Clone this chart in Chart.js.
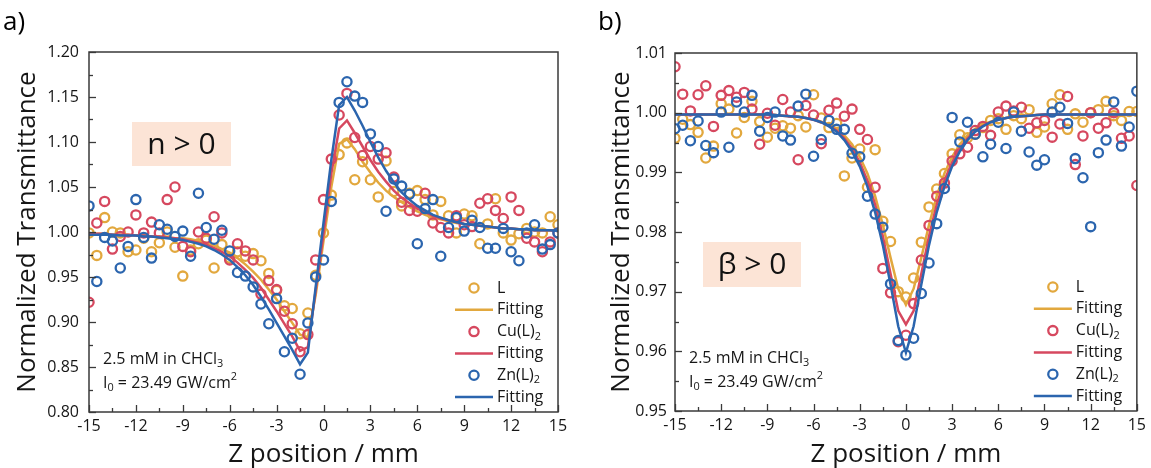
<!DOCTYPE html>
<html>
<head>
<meta charset="utf-8">
<script src="https://cdn.jsdelivr.net/npm/chart.js@4.4.1/dist/chart.umd.min.js"></script>
<style>
  html, body { margin: 0; padding: 0; background: #fff; }
  #wrap { position: relative; width: 1151px; height: 468px; }
  canvas { position: absolute; top: 0; }
  #panel-a { left: 0; }
  #panel-b { left: 575px; }
</style>
</head>
<body>
<div id="wrap">
  <canvas id="panel-a" width="575" height="468"></canvas>
  <canvas id="panel-b" width="576" height="468"></canvas>
</div>
<script>
const FONT = '"Open Sans", "DejaVu Sans", sans-serif';
const INK = '#161616';
const GOLD = '#E2A83E', ROSE = '#D6485F', NAVY = '#2B65AE';

// z positions (mm), shared by every series
const zPos = [-15, -14.5, -14, -13.5, -13, -12.5, -12, -11.5, -11, -10.5, -10, -9.5, -9, -8.5, -8, -7.5,
  -7, -6.5, -6, -5.5, -5, -4.5, -4, -3.5, -3, -2.5, -2, -1.5, -1, -0.5, 0, 0.5, 1, 1.5, 2, 2.5, 3, 3.5,
  4, 4.5, 5, 5.5, 6, 6.5, 7, 7.5, 8, 8.5, 9, 9.5, 10, 10.5, 11, 11.5, 12, 12.5, 13, 13.5, 14, 14.5, 15];
const zTicks = [-15, -12, -9, -6, -3, 0, 3, 6, 9, 12, 15];

// a) closed aperture
const aTicks = [0.80, 0.85, 0.90, 0.95, 1.00, 1.05, 1.10, 1.15, 1.20];
const aL = [0.999, 0.974, 1.016, 1.000, 0.999, 0.978, 0.980, 0.993, 0.978, 0.988, 1.000, 0.983, 0.951,
  0.980, 0.987, 0.991, 0.960, 0.986, 0.971, 0.978, 0.973, 0.976, 0.968, 0.954, 0.935, 0.918, 0.915, 0.887,
  0.910, 0.952, 0.999, 1.041, 1.086, 1.099, 1.058, 1.078, 1.058, 1.039, 1.079, 1.045, 1.029, 1.043, 1.046,
  1.036, 1.019, 1.034, 1.018, 0.999, 1.020, 1.018, 0.987, 1.009, 1.037, 0.999, 0.991, 0.998, 1.004, 1.000,
  0.999, 1.017, 1.008];
const aCu = [0.922, 1.010, 1.034, 0.981, 0.995, 1.000, 1.019, 0.999, 1.011, 0.999, 1.036, 1.050, 0.984,
  0.978, 1.000, 0.993, 1.017, 0.999, 0.969, 0.987, 0.979, 0.969, 0.931, 0.946, 0.936, 0.912, 0.898, 0.867,
  0.886, 0.969, 1.036, 1.081, 1.130, 1.154, 1.105, 1.085, 1.095, 1.081, 1.088, 1.061, 1.033, 1.024, 1.023,
  1.043, 1.010, 1.005, 0.999, 1.018, 1.008, 1.006, 1.032, 1.037, 1.024, 1.015, 1.039, 1.024, 0.993, 0.989,
  0.978, 0.989, 0.999];
const aZn = [1.029, 0.945, 0.994, 0.990, 0.960, 0.984, 1.036, 0.994, 0.971, 1.008, 1.003, 0.995, 1.001,
  0.973, 1.043, 1.005, 0.992, 1.002, 0.979, 0.955, 0.951, 0.939, 0.920, 0.898, 0.926, 0.867, 0.882, 0.842,
  0.899, 0.950, 0.969, 1.034, 1.144, 1.167, 1.151, 1.144, 1.109, 1.095, 1.023, 1.059, 1.051, 1.042, 0.987,
  1.026, 1.036, 0.973, 1.005, 1.016, 1.001, 1.013, 1.005, 0.982, 0.982, 1.004, 0.978, 0.968, 0.999, 1.008,
  0.981, 0.986, 0.999];
const aFitL = [0.998, 0.998, 0.998, 0.997, 0.997, 0.997, 0.996, 0.996, 0.995, 0.995, 0.994, 0.993, 0.993,
  0.992, 0.990, 0.988, 0.985, 0.981, 0.977, 0.971, 0.964, 0.956, 0.947, 0.936, 0.925, 0.912, 0.899, 0.886,
  0.883, 0.930, 0.990, 1.050, 1.098, 1.103, 1.092, 1.078, 1.066, 1.055, 1.046, 1.039, 1.033, 1.028, 1.023,
  1.019, 1.016, 1.014, 1.012, 1.010, 1.009, 1.008, 1.007, 1.006, 1.005, 1.004, 1.004, 1.003, 1.003, 1.002,
  1.002, 1.002, 1.001];
const aFitCu = [0.998, 0.998, 0.998, 0.997, 0.997, 0.997, 0.996, 0.996, 0.995, 0.995, 0.994, 0.993, 0.992,
  0.990, 0.988, 0.986, 0.982, 0.978, 0.973, 0.966, 0.958, 0.949, 0.938, 0.925, 0.912, 0.898, 0.884, 0.868,
  0.872, 0.935, 0.998, 1.065, 1.115, 1.124, 1.110, 1.095, 1.080, 1.067, 1.056, 1.046, 1.038, 1.032, 1.026,
  1.022, 1.018, 1.015, 1.013, 1.011, 1.009, 1.008, 1.007, 1.006, 1.005, 1.004, 1.004, 1.003, 1.003, 1.002,
  1.002, 1.002, 1.001];
const aFitZn = [0.997, 0.997, 0.997, 0.997, 0.996, 0.996, 0.996, 0.995, 0.995, 0.994, 0.993, 0.992, 0.991,
  0.989, 0.987, 0.984, 0.980, 0.975, 0.969, 0.961, 0.952, 0.941, 0.928, 0.914, 0.899, 0.884, 0.869, 0.853,
  0.866, 0.939, 1.010, 1.080, 1.141, 1.150, 1.135, 1.118, 1.100, 1.083, 1.068, 1.055, 1.044, 1.036, 1.029,
  1.024, 1.019, 1.016, 1.013, 1.011, 1.009, 1.008, 1.007, 1.006, 1.005, 1.004, 1.004, 1.003, 1.003, 1.002,
  1.002, 1.002, 1.001];

// b) open aperture
const bTicks = [0.95, 0.96, 0.97, 0.98, 0.99, 1.00, 1.01];
const bL = [0.9957, 0.9989, 0.9980, 0.9967, 0.9924, 0.9944, 1.0015, 1.0006, 0.9966, 0.9992, 1.0019, 0.9985,
  0.9959, 0.9974, 0.9978, 0.9974, 0.9995, 0.9976, 1.0030, 0.9991, 0.9975, 0.9982, 0.9894, 0.9924, 0.9939,
  0.9875, 0.9938, 0.9818, 0.9784, 0.9700, 0.9691, 0.9723, 0.9783, 0.9842, 0.9872, 0.9898, 0.9931, 0.9963,
  0.9958, 0.9964, 0.9975, 0.9987, 0.9990, 0.9972, 0.9995, 0.9990, 1.0005, 0.9967, 0.9976, 1.0015, 1.0030,
  0.9972, 0.9998, 0.9984, 1.0000, 1.0005, 1.0019, 0.9995, 0.9987, 1.0002, 1.0002];
const bCu = [1.0077, 1.0031, 1.0003, 1.0030, 1.0045, 0.9977, 1.0029, 1.0037, 1.0026, 1.0034, 1.0006, 0.9947,
  0.9999, 0.9979, 1.0022, 1.0001, 0.9921, 1.0012, 0.9996, 0.9948, 1.0004, 1.0016, 0.9994, 1.0006, 0.9972,
  0.9955, 0.9875, 0.9739, 0.9698, 0.9616, 0.9627, 0.9680, 0.9753, 0.9811, 0.9860, 0.9882, 0.9919, 0.9931,
  0.9942, 0.9970, 0.9977, 0.9962, 1.0001, 1.0011, 1.0003, 1.0009, 0.9974, 0.9983, 0.9987, 0.9959, 0.9981,
  1.0027, 0.9913, 0.9961, 1.0000, 0.9974, 0.9983, 1.0000, 0.9957, 0.9961, 0.9878];
const bZn = [0.9973, 0.9979, 0.9953, 0.9986, 0.9945, 0.9933, 1.0001, 0.9942, 1.0018, 1.0001, 1.0029, 0.9969,
  0.9992, 1.0001, 0.9961, 0.9954, 1.0011, 1.0031, 0.9927, 0.9955, 0.9987, 0.9972, 0.9972, 0.9932, 0.9926,
  0.9860, 0.9830, 0.9808, 0.9713, 0.9618, 0.9594, 0.9622, 0.9697, 0.9748, 0.9814, 0.9873, 0.9992, 0.9951,
  0.9984, 0.9964, 0.9926, 0.9947, 0.9984, 0.9940, 1.0001, 0.9969, 0.9934, 0.9912, 0.9921, 1.0001, 1.0009,
  0.9982, 0.9923, 0.9891, 0.9809, 0.9933, 0.9954, 1.0018, 0.9944, 0.9976, 1.0036];
const bFitL = [0.9997, 0.9997, 0.9997, 0.9997, 0.9997, 0.9997, 0.9997, 0.9997, 0.9997, 0.9997, 0.9997, 0.9997,
  0.9997, 0.9996, 0.9995, 0.9994, 0.9993, 0.9991, 0.9989, 0.9985, 0.9980, 0.9973, 0.9962, 0.9947, 0.9926,
  0.9898, 0.9860, 0.9812, 0.9757, 0.9705, 0.9678, 0.9705, 0.9757, 0.9812, 0.9860, 0.9898, 0.9926, 0.9947,
  0.9962, 0.9973, 0.9980, 0.9985, 0.9989, 0.9991, 0.9993, 0.9994, 0.9995, 0.9996, 0.9997, 0.9997, 0.9997,
  0.9997, 0.9997, 0.9997, 0.9997, 0.9997, 0.9997, 0.9997, 0.9997, 0.9997, 0.9997];
const bFitCu = [0.9997, 0.9997, 0.9997, 0.9997, 0.9997, 0.9997, 0.9997, 0.9997, 0.9997, 0.9997, 0.9997, 0.9997,
  0.9997, 0.9996, 0.9995, 0.9994, 0.9993, 0.9991, 0.9988, 0.9984, 0.9978, 0.9970, 0.9957, 0.9940, 0.9917,
  0.9886, 0.9846, 0.9793, 0.9730, 0.9668, 0.9645, 0.9668, 0.9730, 0.9793, 0.9846, 0.9886, 0.9917, 0.9940,
  0.9957, 0.9970, 0.9978, 0.9984, 0.9988, 0.9991, 0.9993, 0.9994, 0.9995, 0.9996, 0.9997, 0.9997, 0.9997,
  0.9997, 0.9997, 0.9997, 0.9997, 0.9997, 0.9997, 0.9997, 0.9997, 0.9997, 0.9997];
const bFitZn = [0.9997, 0.9997, 0.9997, 0.9997, 0.9997, 0.9997, 0.9997, 0.9997, 0.9997, 0.9997, 0.9997, 0.9997,
  0.9997, 0.9996, 0.9995, 0.9994, 0.9993, 0.9991, 0.9988, 0.9984, 0.9977, 0.9968, 0.9954, 0.9935, 0.9910,
  0.9876, 0.9833, 0.9778, 0.9712, 0.9642, 0.9598, 0.9642, 0.9712, 0.9778, 0.9833, 0.9876, 0.9910, 0.9935,
  0.9954, 0.9968, 0.9977, 0.9984, 0.9988, 0.9991, 0.9993, 0.9994, 0.9995, 0.9996, 0.9997, 0.9997, 0.9997,
  0.9997, 0.9997, 0.9997, 0.9997, 0.9997, 0.9997, 0.9997, 0.9997, 0.9997, 0.9997];

const pairs = ys => zPos.map((z, i) => ({ x: z, y: ys[i] }));

function dots(label, ys, color, order) {
  return {
    label, data: pairs(ys), showLine: false, order,
    pointRadius: 4.6, pointBorderWidth: 2.3, pointBorderColor: color,
    pointBackgroundColor: 'rgba(255,255,255,0)', borderColor: color
  };
}
function fit(ys, color, order) {
  return {
    label: 'Fitting', data: pairs(ys), showLine: true, order,
    pointRadius: 0, borderColor: color, borderWidth: 2.5, tension: 0
  };
}

// text with sub/superscripts: parts = [[text, '' | 'sub' | 'sup'], ...]
function richText(ctx, parts, x, y, size) {
  let cx = x;
  ctx.textAlign = 'left';
  ctx.textBaseline = 'middle';
  for (const [t, k] of parts) {
    const s = k ? size * 0.68 : size;
    ctx.font = s + 'px ' + FONT;
    const dy = k === 'sub' ? size * 0.32 : k === 'sup' ? -size * 0.38 : 0;
    ctx.fillText(t, cx, y + dy);
    cx += ctx.measureText(t).width;
  }
}

const legendRows = [
  { kind: 'dot', color: GOLD, parts: [['L', '']] },
  { kind: 'line', color: GOLD, parts: [['Fitting', '']] },
  { kind: 'dot', color: ROSE, parts: [['Cu(L)', ''], ['2', 'sub']] },
  { kind: 'line', color: ROSE, parts: [['Fitting', '']] },
  { kind: 'dot', color: NAVY, parts: [['Zn(L)', ''], ['2', 'sub']] },
  { kind: 'line', color: NAVY, parts: [['Fitting', '']] }
];
const noteRows = [
  [['2.5 mM in CHCl', ''], ['3', 'sub']],
  [['I', ''], ['0', 'sub'], [' = 23.49 GW/cm', ''], ['2', 'sup']]
];

const deco = {
  id: 'deco',
  afterDraw(chart, args, o) {
    const { ctx, chartArea: a, scales: { x, y } } = chart;
    ctx.save();

    // inward ticks on bottom and left, minor ticks halfway
    ctx.strokeStyle = '#3a3a3a';
    ctx.lineWidth = 1.3;
    const mark = (scale, v, len, horiz) => {
      const p = Math.round(scale.getPixelForValue(v)) + 0.5;
      ctx.beginPath();
      if (horiz) { ctx.moveTo(p, a.bottom); ctx.lineTo(p, a.bottom - len); }
      else { ctx.moveTo(a.left, p); ctx.lineTo(a.left + len, p); }
      ctx.stroke();
    };
    [[x, true], [y, false]].forEach(([scale, horiz]) => {
      const t = scale.ticks;
      t.forEach((tk, i) => {
        mark(scale, tk.value, 7, horiz);
        if (i < t.length - 1) mark(scale, (tk.value + t[i + 1].value) / 2, 4, horiz);
      });
    });

    // frame
    ctx.lineWidth = 1.5;
    ctx.strokeRect(a.left, a.top, a.right - a.left, a.bottom - a.top);

    // highlighted sign box
    const b = o.box;
    ctx.fillStyle = '#FCE4D6';
    ctx.fillRect(a.left + b.x, a.top + b.y, b.w, b.h);
    ctx.fillStyle = '#111';
    ctx.font = '30px ' + FONT;
    ctx.textAlign = 'center';
    ctx.textBaseline = 'middle';
    ctx.fillText(b.text, a.left + b.x + b.w / 2, a.top + b.y + b.h / 2 + 1);

    // sample notes
    ctx.fillStyle = INK;
    richText(ctx, noteRows[0], a.left + 14, a.bottom - 53, 16);
    richText(ctx, noteRows[1], a.left + 14, a.bottom - 29, 16);

    // legend
    legendRows.forEach((r, i) => {
      const yy = a.bottom - 124 + i * 21.8;
      ctx.strokeStyle = r.color;
      if (r.kind === 'dot') {
        ctx.lineWidth = 2.3;
        ctx.beginPath();
        ctx.arc(a.right - 84, yy, 4.6, 0, Math.PI * 2);
        ctx.stroke();
      } else {
        ctx.lineWidth = 2.5;
        ctx.beginPath();
        ctx.moveTo(a.right - 103, yy);
        ctx.lineTo(a.right - 65, yy);
        ctx.stroke();
      }
      ctx.fillStyle = INK;
      richText(ctx, r.parts, a.right - 61, yy, 16);
    });

    // panel letter
    ctx.fillStyle = '#000';
    ctx.font = '26px ' + FONT;
    ctx.textAlign = 'left';
    ctx.textBaseline = 'alphabetic';
    ctx.fillText(o.letter, o.letterX, 30);
    ctx.restore();
  }
};

function makePanel(id, cfg) {
  return new Chart(document.getElementById(id), {
    type: 'scatter',
    data: {
      datasets: [
        dots('L', cfg.L, GOLD, 5), fit(cfg.fitL, GOLD, 4),
        dots('Cu(L)2', cfg.Cu, ROSE, 3), fit(cfg.fitCu, ROSE, 2),
        dots('Zn(L)2', cfg.Zn, NAVY, 1), fit(cfg.fitZn, NAVY, 0)
      ]
    },
    options: {
      responsive: false,
      animation: false,
      layout: { padding: { left: 0, right: cfg.padRight, top: cfg.padTop, bottom: 0 } },
      plugins: {
        legend: { display: false },
        tooltip: { enabled: false },
        deco: { box: cfg.box, letter: cfg.letter, letterX: cfg.letterX }
      },
      scales: {
        x: {
          type: 'linear', min: -15, max: 15,
          afterBuildTicks: s => { s.ticks = zTicks.map(v => ({ value: v })); },
          afterFit: s => { s.height = cfg.xHeight; },
          grid: { display: false, drawTicks: false },
          border: { display: false },
          ticks: { color: INK, padding: 5, maxRotation: 0, autoSkip: false, font: { family: FONT, size: 16 } },
          title: {
            display: true, text: 'Z position / mm', color: INK, padding: 0,
            font: { family: FONT, size: 26, lineHeight: 1 }
          }
        },
        y: {
          type: 'linear', min: cfg.yTicks[0], max: cfg.yTicks[cfg.yTicks.length - 1],
          afterBuildTicks: s => { s.ticks = cfg.yTicks.map(v => ({ value: v })); },
          afterFit: s => { s.width = cfg.yWidth; },
          grid: { display: false, drawTicks: false },
          border: { display: false },
          ticks: {
            color: INK, padding: cfg.yPad, font: { family: FONT, size: 16 },
            callback: v => Number(v).toFixed(2)
          },
          title: {
            display: true, text: 'Normalized Transmittance', color: INK,
            padding: { top: cfg.titlePad, bottom: 0 },
            font: { family: FONT, size: 26, lineHeight: 1 }
          }
        }
      }
    },
    plugins: [deco]
  });
}

makePanel('panel-a', {
  L: aL, Cu: aCu, Zn: aZn, fitL: aFitL, fitCu: aFitCu, fitZn: aFitZn,
  yTicks: aTicks, yWidth: 89, xHeight: 56, padRight: 17, padTop: 52, yPad: 10, titlePad: 15,
  box: { text: 'n > 0', x: 43, y: 70, w: 99, h: 44 }, letter: 'a)', letterX: 3
});
makePanel('panel-b', {
  L: bL, Cu: bCu, Zn: bZn, fitL: bFitL, fitCu: bFitCu, fitZn: bFitZn,
  yTicks: bTicks, yWidth: 100, xHeight: 57, padRight: 10, padTop: 53, yPad: 8, titlePad: 34,
  box: { text: 'β > 0', x: 28, y: 189, w: 98, h: 45 }, letter: 'b)', letterX: 23
});
</script>
</body>
</html>
